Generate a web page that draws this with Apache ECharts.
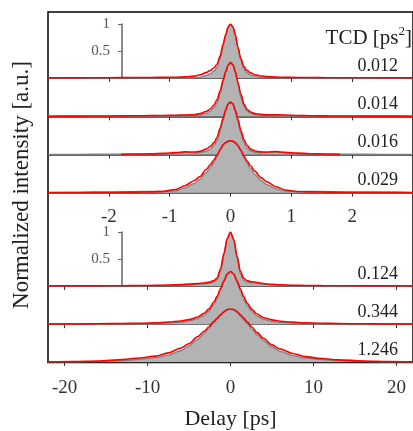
<!DOCTYPE html>
<html>
<head>
<meta charset="utf-8">
<script src="https://cdn.jsdelivr.net/npm/echarts@6/dist/echarts.min.js"></script>
<style>html,body{margin:0;padding:0;background:#fff;}#c{width:413px;height:431px;}</style>
</head>
<body>
<div id="c"></div>
<script>
// ---- data ----
const topX = [-3,-2.5,-2,-1.6,-1.3,-1.1,-0.9,-0.75,-0.6,-0.5,-0.4,-0.33,-0.27,-0.22,-0.17,-0.12,-0.08,-0.04,0,0.04,0.08,0.12,0.17,0.22,0.27,0.33,0.4,0.5,0.6,0.75,0.9,1.1,1.3,1.6,2,2.5,3];
const topX3 = [-1.8,-1.6,-1.3,-1.1,-0.9,-0.75,-0.6,-0.5,-0.4,-0.33,-0.27,-0.22,-0.17,-0.12,-0.08,-0.04,0,0.04,0.08,0.12,0.17,0.22,0.27,0.33,0.4,0.5,0.6,0.75,0.9,1.1,1.3,1.6,1.8];
const bottomX = [-22,-19,-16,-13,-11,-9,-7.5,-6,-5,-4,-3.2,-2.6,-2,-1.6,-1.2,-0.8,-0.4,0,0.4,0.8,1.2,1.6,2,2.6,3.2,4,5,6,7.5,9,11,13,16,19,22];

const red1  = [0.002,0.003,0.005,0.008,0.01,0.012,0.015,0.02,0.035,0.06,0.1,0.14,0.19,0.26,0.41,0.64,0.8,0.945,1.0,0.95,0.81,0.58,0.36,0.21,0.14,0.095,0.06,0.038,0.025,0.017,0.012,0.01,0.008,0.006,0.004,0.003,0.002];
const gray1 = [0.003,0.003,0.004,0.004,0.005,0.005,0.005,0.006,0.008,0.018,0.045,0.08,0.13,0.2,0.36,0.59,0.78,0.935,0.98,0.935,0.78,0.56,0.33,0.17,0.1,0.055,0.03,0.015,0.008,0.006,0.005,0.005,0.004,0.004,0.003,0.003,0.003];
const red2  = [0.002,0.004,0.006,0.01,0.012,0.015,0.02,0.025,0.03,0.05,0.09,0.14,0.21,0.31,0.47,0.68,0.83,0.95,1.0,0.96,0.83,0.64,0.41,0.23,0.13,0.08,0.05,0.035,0.027,0.03,0.025,0.015,0.01,0.007,0.005,0.003,0.002];
const gray2 = [0.003,0.003,0.004,0.005,0.005,0.006,0.008,0.01,0.012,0.025,0.055,0.095,0.16,0.25,0.41,0.63,0.8,0.935,0.98,0.94,0.8,0.6,0.36,0.19,0.1,0.055,0.032,0.018,0.012,0.01,0.008,0.006,0.005,0.004,0.004,0.003,0.003];
const red3  = [0.005,0.008,0.012,0.02,0.035,0.05,0.045,0.06,0.1,0.15,0.22,0.32,0.49,0.68,0.83,0.94,0.97,0.94,0.82,0.66,0.45,0.28,0.17,0.1,0.065,0.048,0.045,0.055,0.04,0.025,0.015,0.008,0.005];
const gray3 = [0.003,0.004,0.005,0.005,0.006,0.01,0.025,0.04,0.03,0.035,0.06,0.1,0.17,0.26,0.43,0.64,0.8,0.925,0.96,0.925,0.79,0.61,0.39,0.22,0.12,0.065,0.04,0.032,0.035,0.045,0.03,0.015,0.008,0.005,0.005,0.004,0.003];
const red4  = [0.003,0.005,0.007,0.01,0.015,0.025,0.06,0.13,0.22,0.3,0.43,0.52,0.61,0.7,0.8,0.89,0.93,0.955,0.96,0.955,0.93,0.88,0.79,0.68,0.59,0.5,0.4,0.28,0.2,0.11,0.05,0.022,0.015,0.01,0.008,0.006,0.004];
const gray4 = [0.003,0.006,0.01,0.02,0.025,0.02,0.035,0.09,0.17,0.25,0.37,0.47,0.57,0.67,0.78,0.875,0.92,0.945,0.955,0.945,0.915,0.865,0.77,0.65,0.55,0.45,0.34,0.23,0.15,0.07,0.03,0.02,0.025,0.02,0.01,0.006,0.003];
const red5  = [0.001,0.002,0.003,0.005,0.008,0.012,0.018,0.025,0.035,0.045,0.055,0.07,0.1,0.15,0.32,0.6,0.88,1.0,0.86,0.55,0.27,0.14,0.1,0.08,0.065,0.045,0.03,0.022,0.015,0.01,0.007,0.005,0.003,0.002,0.001];
const gray5 = [0.001,0.002,0.003,0.004,0.005,0.007,0.01,0.013,0.02,0.03,0.04,0.05,0.07,0.12,0.27,0.56,0.87,0.99,0.85,0.5,0.22,0.1,0.07,0.06,0.045,0.03,0.02,0.012,0.008,0.005,0.004,0.003,0.002,0.002,0.001];
const red6  = [0.003,0.005,0.008,0.012,0.018,0.025,0.04,0.06,0.085,0.13,0.2,0.28,0.41,0.52,0.66,0.8,0.93,0.975,0.93,0.8,0.65,0.51,0.39,0.27,0.19,0.12,0.08,0.055,0.038,0.025,0.017,0.012,0.007,0.004,0.003];
const gray6 = [0.002,0.003,0.004,0.006,0.009,0.014,0.022,0.04,0.06,0.1,0.16,0.24,0.37,0.48,0.63,0.78,0.92,0.97,0.92,0.77,0.61,0.46,0.35,0.23,0.15,0.09,0.055,0.035,0.022,0.014,0.009,0.006,0.004,0.003,0.002];
const red7  = [0.005,0.01,0.02,0.045,0.075,0.11,0.17,0.26,0.34,0.47,0.57,0.66,0.76,0.82,0.88,0.94,0.98,0.99,0.98,0.94,0.88,0.82,0.75,0.65,0.55,0.44,0.32,0.24,0.16,0.1,0.065,0.04,0.02,0.01,0.005];
const gray7 = [0.002,0.004,0.01,0.025,0.05,0.08,0.13,0.21,0.3,0.42,0.53,0.63,0.73,0.8,0.87,0.93,0.97,0.985,0.97,0.93,0.86,0.79,0.72,0.61,0.51,0.4,0.28,0.2,0.12,0.075,0.045,0.025,0.01,0.004,0.002];

const tcdLabels = ['0.012','0.014','0.016','0.029','0.124','0.344','1.246'];
const topTicks = [-2,-1,0,1,2];
const bottomTicks = [-20,-10,0,10,20];
const insetTicks = [0.5,1];

// ---- layout ----
const FONT = '"Liberation Serif","Times New Roman",serif';
const baselines = [78,116.3,154.5,192.7,286,324.2,362.5];
const UNIT = 54;
const LEFT = 48, WIDTH = 366;

const panels = [
  {x: topX, red: red1, redX: topX, gray: gray1, top: true},
  {x: topX, red: red2, redX: topX, gray: gray2, top: true},
  {x: topX, red: red3, redX: topX3, gray: gray3, top: true},
  {x: topX, red: red4, redX: topX, gray: gray4, top: true},
  {x: bottomX, red: red5, redX: bottomX, gray: gray5, top: false},
  {x: bottomX, red: red6, redX: bottomX, gray: gray6, top: false},
  {x: bottomX, red: red7, redX: bottomX, gray: gray7, top: false}
];

const grid = [], xAxis = [], yAxis = [], series = [], graphic = [];
panels.forEach((p, i) => {
  grid.push({left: LEFT, width: WIDTH, top: baselines[i] - UNIT, height: UNIT});
  const ticks = p.top ? topTicks : bottomTicks;
  const ax = {
    gridIndex: i, type: 'value',
    min: p.top ? -3 : -22, max: p.top ? 3 : 22,
    axisLine: {show: true, lineStyle: {color: '#333', width: 1.5}},
    axisTick: {show: true, customValues: ticks, length: 4, lineStyle: {color: '#333', width: 1}},
    axisLabel: {show: i === 3 || i === 6, customValues: ticks, fontSize: 19, fontFamily: FONT, color: '#333', margin: i === 3 ? 15 : 17},
    splitLine: {show: false}
  };
  if (i === 6) {
    ax.name = 'Delay [ps]';
    ax.nameLocation = 'middle';
    ax.nameGap = 46;
    ax.nameTextStyle = {fontSize: 22, fontFamily: FONT, color: '#222'};
  }
  xAxis.push(ax);
  yAxis.push({gridIndex: i, type: 'value', min: 0, max: 1, show: false});
  series.push({
    type: 'line', xAxisIndex: i, yAxisIndex: i, silent: true,
    data: p.x.map((x, k) => [x, p.gray[k]]),
    smooth: 0.3, smoothMonotone: 'x', showSymbol: false, symbol: 'none',
    lineStyle: {color: '#808080', width: 1.3},
    areaStyle: {color: '#b3b3b3', opacity: 1}
  });
  series.push({
    type: 'line', xAxisIndex: i, yAxisIndex: i, silent: true,
    data: p.redX.map((x, k) => [x, p.red[k]]),
    smooth: 0.3, smoothMonotone: 'x', showSymbol: false, symbol: 'none',
    lineStyle: {color: '#ff0000', width: 1.6}
  });
  graphic.push({
    type: 'text', right: 15, top: baselines[i] - 21,
    style: {text: tcdLabels[i], fontSize: 18, fontFamily: FONT, fill: '#222'}
  });
});

// inset intensity axes
[0, 4].forEach(pi => {
  const gi = grid.length;
  grid.push({left: 122, width: 10, top: baselines[pi] - UNIT, height: UNIT});
  xAxis.push({gridIndex: gi, type: 'value', min: 0, max: 1, show: false});
  yAxis.push({
    gridIndex: gi, type: 'value', min: 0, max: 1,
    axisLine: {show: true, lineStyle: {color: '#666', width: 1.5}},
    axisTick: {show: true, customValues: insetTicks, length: 4, lineStyle: {color: '#666'}},
    axisLabel: {customValues: insetTicks, fontSize: 15, fontFamily: FONT, color: '#555', margin: 12},
    splitLine: {show: false}
  });
});

// outer frame
{
  const gi = grid.length;
  grid.push({left: LEFT, top: 12, width: 380, height: 350.5, show: true, borderColor: '#000', borderWidth: 1.5, backgroundColor: 'transparent'});
  xAxis.push({gridIndex: gi, type: 'value', min: 0, max: 1, show: false});
  yAxis.push({gridIndex: gi, type: 'value', min: 0, max: 1, show: false});
}

graphic.push({
  type: 'text', right: 1, top: 25,
  style: {
    text: 'TCD [ps{s|2}]', fontSize: 21, fontFamily: FONT, fill: '#222', lineHeight: 26,
    rich: {s: {fontSize: 13, fontFamily: FONT, fill: '#222', verticalAlign: 'top', lineHeight: 14}}
  }
});
graphic.push({
  type: 'text', x: 22, y: 185, rotation: Math.PI / 2,
  style: {text: 'Normalized intensity [a.u.]', fontSize: 23, fontFamily: FONT, fill: '#222', align: 'center', verticalAlign: 'middle'}
});

const chart = echarts.init(document.getElementById('c'), null, {renderer: 'canvas'});
chart.setOption({
  animation: false,
  backgroundColor: '#fff',
  grid, xAxis, yAxis, series, graphic
});
</script>
</body>
</html>
